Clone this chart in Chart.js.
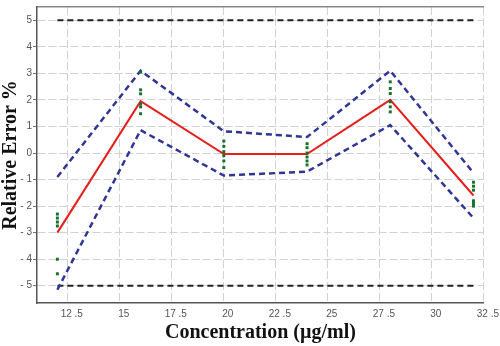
<!DOCTYPE html>
<html>
<head>
<meta charset="utf-8">
<script src="https://cdn.jsdelivr.net/npm/chart.js@4.4.0/dist/chart.umd.min.js"></script>
<style>
  html, body { margin: 0; padding: 0; background: #fff; }
  #wrap { width: 500px; height: 346px; }
</style>
</head>
<body>
<div id="wrap"><canvas id="chart"></canvas></div>
<script>
// concentrations (µg/ml)
const conc = [12, 16, 20, 24, 28, 32]
const meanErr = [-3.0, 1.95, -0.04, -0.04, 2.0, -1.6]
const upperLimit = [-0.9, 3.1, 0.82, 0.6, 3.1, -0.75]
const lowerLimit = [-5.15, 0.86, -0.85, -0.7, 1.05, -2.45]

// replicate results at each concentration
const replicates = [
  [-2.3, -2.45, -2.6, -2.75, -4.0, -4.55],
  [3.05, 2.38, 2.23, 1.85, 1.74, 1.48],
  [0.45, 0.25, 0.05, -0.1, -0.3, -0.55],
  [0.35, 0.2, 0.0, -0.15, -0.3, -0.45],
  [2.68, 2.43, 2.24, 1.93, 1.74, 1.55],
  [-1.1, -1.25, -1.4, -1.8, -1.9, -2.0]
]

// acceptance limits ±5 %
const limitX = [12, 32]
const limitHigh = [5, 5]
const limitLow = [-5, -5]

const xTicks = [12.5, 15, 17.5, 20, 22.5, 25, 27.5, 30, 32.5]
const xTickLabels = ['12 .5', '15', '17 .5', '20', '22 .5', '25', '27 .5', '30', '32 .5']
const yTicks = [-5, -4, -3, -2, -1, 0, 1, 2, 3, 4, 5]

const pts = (xs, ys) => xs.map((x, i) => ({ x: x, y: ys[i] }))

const dots = []
conc.forEach((c, i) => replicates[i].forEach(v => dots.push({ x: c, y: v })))

const blue = '#2f3596'

const ctx = document.getElementById('chart').getContext('2d')
new Chart(ctx, {
  type: 'scatter',
  data: {
    datasets: [
      { label: 'replicates', data: dots, showLine: false, pointStyle: 'rect',
        pointRadius: 2.1, backgroundColor: '#17702b', borderColor: '#17702b', borderWidth: 0 },
      { label: 'mean', data: pts(conc, meanErr), showLine: true, borderColor: '#e3201c',
        borderWidth: 2, pointRadius: 0 },
      { label: 'upper', data: pts(conc, upperLimit), showLine: true, borderColor: blue,
        borderWidth: 2.5, borderDash: [6, 4], pointRadius: 0 },
      { label: 'lower', data: pts(conc, lowerLimit), showLine: true, borderColor: blue,
        borderWidth: 2.5, borderDash: [6, 4], pointRadius: 0 },
      { label: '+5', data: pts(limitX, limitHigh), showLine: true, borderColor: '#222',
        borderWidth: 2, borderDash: [6, 4], pointRadius: 0 },
      { label: '-5', data: pts(limitX, limitLow), showLine: true, borderColor: '#222',
        borderWidth: 2, borderDash: [6, 4], pointRadius: 0 }
    ]
  },
  options: {
    responsive: true,
    maintainAspectRatio: false,
    animation: false,
    layout: { padding: { top: 5, right: 15, left: 0, bottom: 0 } },
    plugins: { legend: { display: false }, tooltip: { enabled: false } },
    scales: {
      x: {
        type: 'linear',
        min: 11.02,
        max: 32.5,
        afterBuildTicks: s => { s.ticks = xTicks.map(v => ({ value: v })) },
        afterFit: s => { s.height = 43 },
        grid: { color: '#d2d2d2', drawTicks: false },
        border: { display: true, color: '#555', width: 1.5, dash: [8, 3] },
        ticks: {
          padding: 5,
          labelOffset: 4,
          maxRotation: 0,
          autoSkip: false,
          color: '#555',
          font: { family: 'Liberation Sans', size: 10 },
          callback: (v, i) => xTickLabels[i]
        },
        title: {
          display: true,
          text: 'Concentration (µg/ml)',
          color: '#111',
          font: { family: 'Liberation Serif', size: 20, weight: 'bold' },
          padding: { top: 0, bottom: 1 }
        }
      },
      xTop: {
        type: 'linear',
        position: 'top',
        min: 11.02,
        max: 32.5,
        afterFit: s => { s.height = 0 },
        grid: { display: false },
        ticks: { display: false },
        border: { display: true, color: '#888', width: 1.5 }
      },
      y: {
        min: -5.65,
        max: 5.5,
        afterBuildTicks: s => { s.ticks = yTicks.map(v => ({ value: v })) },
        afterFit: s => { s.width = 37 },
        grid: { color: '#d2d2d2', tickLength: 4, tickColor: '#777' },
        border: { display: true, color: '#555', width: 1.5, dash: [8, 3] },
        ticks: {
          padding: 1,
          color: '#555',
          font: { family: 'Liberation Sans', size: 10 },
          callback: v => v < 0 ? '- ' + Math.abs(v) : String(v)
        },
        title: {
          display: true,
          text: 'Relative Error %',
          color: '#111',
          font: { family: 'Liberation Serif', size: 20, weight: 'bold' },
          padding: { top: -1, bottom: 0 }
        }
      }
    }
  }
})
</script>
</body>
</html>
